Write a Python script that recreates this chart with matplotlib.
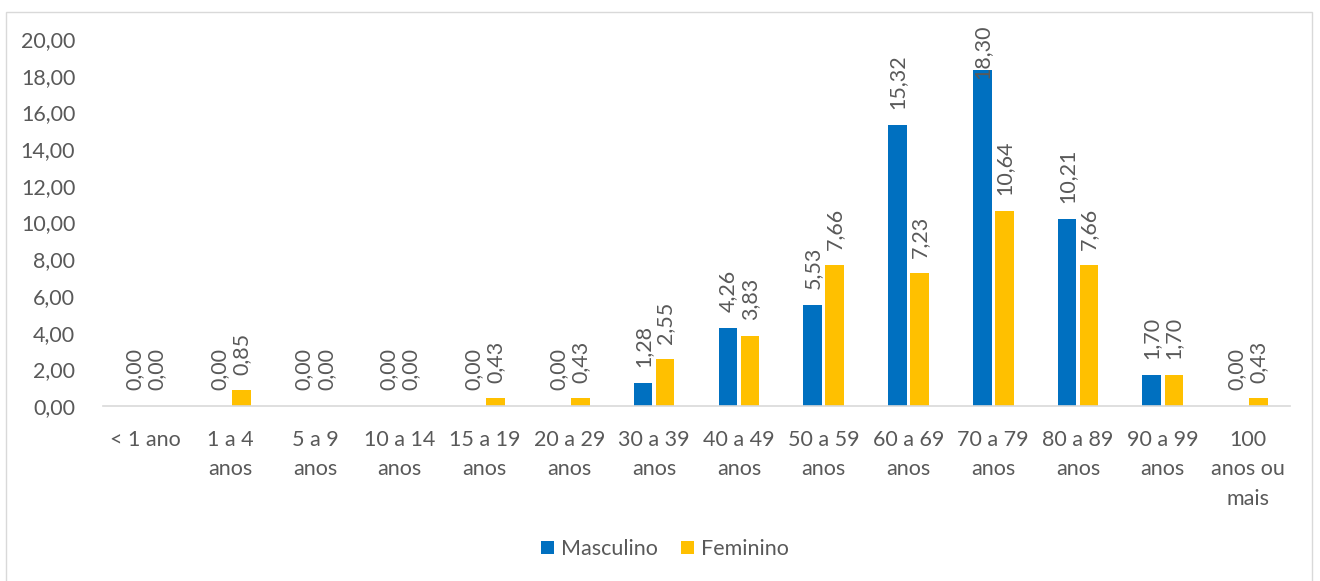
import matplotlib.pyplot as plt
import numpy as np

plt.rcParams['font.family'] = ['Lato', 'DejaVu Sans']

faixas = ["< 1 ano", "1 a 4\nanos", "5 a 9\nanos", "10 a 14\nanos", "15 a 19\nanos",
          "20 a 29\nanos", "30 a 39\nanos", "40 a 49\nanos", "50 a 59\nanos",
          "60 a 69\nanos", "70 a 79\nanos", "80 a 89\nanos", "90 a 99\nanos",
          "100\nanos ou\nmais"]
masculino = [0.00, 0.00, 0.00, 0.00, 0.00, 0.00, 1.28, 4.26, 5.53, 15.32, 18.30, 10.21, 1.70, 0.00]
feminino = [0.00, 0.85, 0.00, 0.00, 0.43, 0.43, 2.55, 3.83, 7.66, 7.23, 10.64, 7.66, 1.70, 0.43]

azul = "#0070C0"
amarelo = "#FFC000"
cinza = "#595959"
fs = 15.5

fig = plt.figure(figsize=(13.2, 5.81), dpi=100)
ax = fig.add_axes([103 / 1320, (581 - 406) / 581, (1290 - 103) / 1320, (406 - 39) / 581])

x = np.arange(len(faixas))
w = 0.22
b1 = ax.bar(x - 0.13, masculino, w, color=azul, label="Masculino")
b2 = ax.bar(x + 0.13, feminino, w, color=amarelo, label="Feminino")

def fmt(v):
    return f"{v:.2f}".replace(".", ",")

# rótulos acima das barras; o mais alto é empurrado para dentro da área do gráfico
gap = 0.85
teto = 17.8
for bars, vals in ((b1, masculino), (b2, feminino)):
    for r, v in zip(bars, vals):
        ax.text(r.get_x() + r.get_width() / 2, min(v + gap, teto), fmt(v), rotation=90,
                ha="center", va="bottom", fontsize=fs, color=cinza, clip_on=False)

ax.set_xlim(-0.5, len(faixas) - 0.5)
ax.set_ylim(0, 20)
ax.set_yticks(np.arange(0, 21, 2))
ax.set_yticklabels([fmt(t) for t in np.arange(0, 21, 2)])
ax.set_xticks(x)
ax.set_xticklabels(faixas, linespacing=1.6)
ax.tick_params(length=0, colors=cinza, labelsize=fs)
ax.tick_params(axis="x", pad=17)
ax.tick_params(axis="y", pad=20)
for s in ["top", "right", "left"]:
    ax.spines[s].set_visible(False)
ax.spines["bottom"].set_color("#D9D9D9")
ax.spines["bottom"].set_linewidth(1.2)

leg = fig.legend(handles=[b1, b2], loc="center", bbox_to_anchor=(665 / 1320, 1 - 549 / 581),
                 ncol=2, frameon=False, fontsize=fs, handlelength=0.6, handleheight=0.6,
                 handletextpad=0.3, columnspacing=1.1)
for t in leg.get_texts():
    t.set_color(cinza)

border = plt.Rectangle((6 / 1320, -0.01), (1312 - 6) / 1320, (581 - 12) / 581 + 0.01,
                       transform=fig.transFigure, fill=False, edgecolor="#D9D9D9", lw=1)
fig.patches.append(border)

fig.savefig("out.png", dpi=100)
